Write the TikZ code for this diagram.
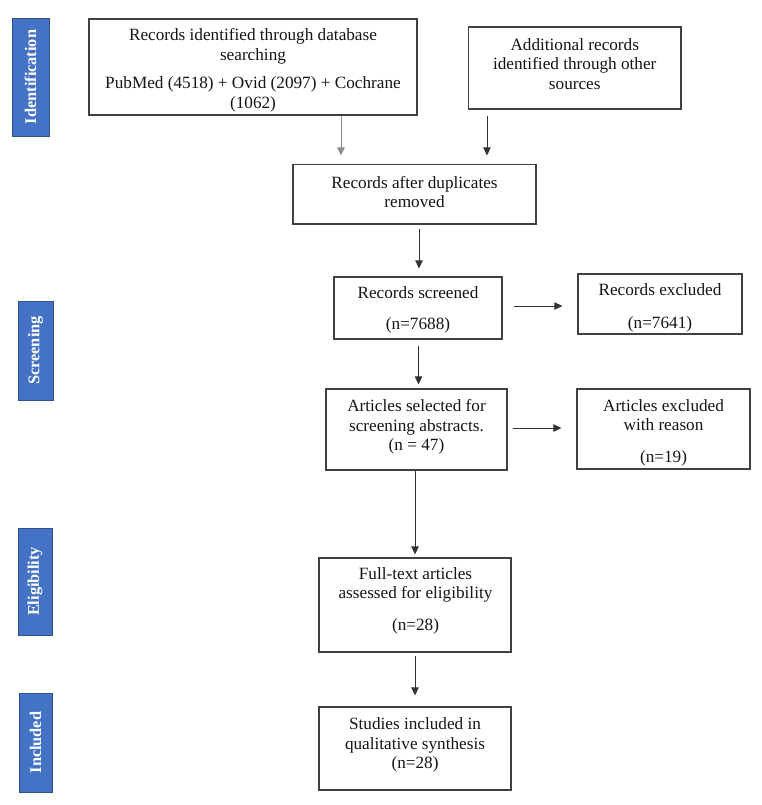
\documentclass[tikz,border=0pt]{standalone}
\usepackage{fontspec}
\setmainfont{Liberation Serif}
\usetikzlibrary{arrows.meta,calc}
\definecolor{phase}{HTML}{4472C4}
\definecolor{phaseb}{HTML}{2F528F}
\definecolor{boxline}{HTML}{404040}
\begin{document}
\begin{tikzpicture}[x=1pt,y=-1pt,
  box/.style={draw=boxline, line width=1.2pt, rectangle, inner sep=0pt},
  txt/.style={align=center, font=\fontsize{17.2}{19.5}\selectfont, inner sep=0pt, text=black!92},
  phaselbl/.style={draw=phaseb, fill=phase, line width=0.8pt, inner sep=0pt, text=white,
    font=\fontsize{16.3}{18}\selectfont\bfseries, rotate=90},
  arr/.style={draw=black!80, line width=0.9pt, -{Triangle[length=8pt,width=7.5pt]}}]
\useasboundingbox (0,0) rectangle (762,805);

% phase labels
\node[phaselbl, minimum width=118pt, minimum height=37pt] (p1) at (30.5,77) {Identification};
\node[phaselbl, minimum width=99pt, minimum height=35pt] (p2) at (35.5,350.5) {Screening};
\node[phaselbl, minimum width=107pt, minimum height=34pt] (p3) at (35,581.5) {Eligibility};
\node[phaselbl, minimum width=99pt, minimum height=33pt] (p4) at (35.5,742.5) {Included};

% boxes
\node[box, minimum width=328pt, minimum height=96pt] (b1) at (253,67) {};
\node[box, minimum width=212.5pt, minimum height=82pt] (b2) at (574.75,68) {};
\node[box, minimum width=243pt, minimum height=59.5pt] (b3) at (414.5,194.25) {};
\node[box, minimum width=168pt, minimum height=62pt] (b4) at (418,308) {};
\node[box, minimum width=164pt, minimum height=60pt] (b5) at (660,304) {};
\node[box, minimum width=181pt, minimum height=81pt] (b6) at (416.5,429.5) {};
\node[box, minimum width=173pt, minimum height=80pt] (b7) at (663.5,429) {};
\node[box, minimum width=192pt, minimum height=94pt] (b8) at (415,605) {};
\node[box, minimum width=192pt, minimum height=83pt] (b9) at (415,748.5) {};

% texts
\node[txt] (t1) at (253,70.5) {Records identified through database\\searching\\[9pt]PubMed (4518) + Ovid (2097) + Cochrane\\(1062)};
\node[txt] (t2) at (574.75,64) {Additional records\\identified through other\\sources};
\node[txt] (t3) at (414.5,192) {Records after duplicates\\removed};
\node[txt] (t4) at (418,309.5) {Records screened\\[11.5pt](n=7688)};
\node[txt] (t5) at (660,307.5) {Records excluded\\[13.5pt](n=7641)};
\node[txt] (t6) at (416.5,427) {Articles selected for\\screening abstracts.\\(n = 47)};
\node[txt] (t7) at (663.5,433) {Articles excluded\\with reason\\[12.5pt](n=19)};
\node[txt] (t8) at (415.5,601) {Full-text articles\\assessed for eligibility\\[12.5pt](n=28)};
\node[txt] (t9) at (415,745) {Studies included in\\qualitative synthesis\\(n=28)};

% connectors
\draw[arr, draw=black!45, shorten >=8.5pt] ([xshift=88pt]b1.south) -- ([xshift=-73.5pt]b3.north);
\draw[arr, shorten <=6pt, shorten >=8.5pt] ([xshift=-87.75pt]b2.south) -- ([xshift=72.5pt]b3.north);
\draw[arr, shorten <=4pt, shorten >=8pt] ([xshift=4.5pt]b3.south) -- ([xshift=1pt]b4.north);
\draw[arr, shorten <=6pt, shorten >=4pt] ([xshift=0.5pt]b4.south) -- ([xshift=2pt]b6.north);
\draw[arr, shorten >=3pt] ([xshift=-1.5pt]b6.south) -- (b8.north);
\draw[arr, shorten <=3pt, shorten >=11pt] (b8.south) -- (b9.north);
\draw[arr, shorten <=11pt, shorten >=15pt] ([yshift=2pt]b4.east) -- ([yshift=-2pt]b5.west);
\draw[arr, shorten <=5pt, shorten >=15pt] ([yshift=1.5pt]b6.east) -- ([yshift=1pt]b7.west);
\end{tikzpicture}
\end{document}
